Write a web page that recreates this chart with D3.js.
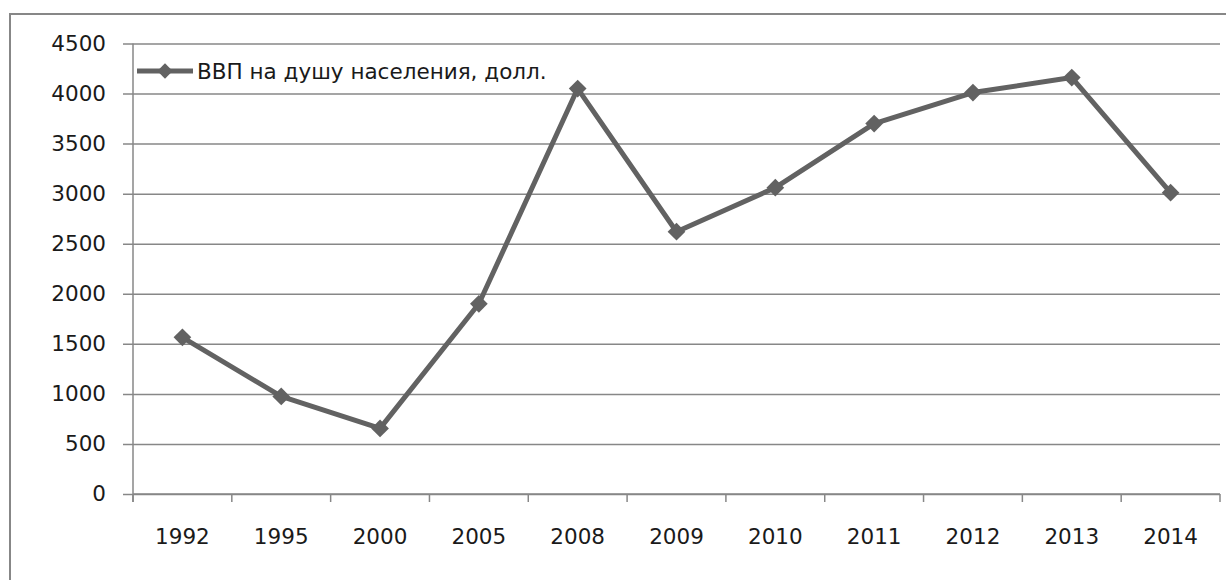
<!DOCTYPE html>
<html><head><meta charset="utf-8">
<script src="https://cdn.jsdelivr.net/npm/d3@7"></script>
<style>body{margin:0;background:#fff;}svg{display:block;}</style>
</head><body>
<svg id="c" width="1226" height="580"></svg>
<script>
const categories = ["1992","1995","2000","2005","2008","2009","2010","2011","2012","2013","2014"];
const gdpValues = [1565, 975, 655, 1900, 4050, 2620, 3060, 3700, 4010, 4160, 3010];
const yTicks = [0,500,1000,1500,2000,2500,3000,3500,4000,4500];
const seriesName = "ВВП на душу населения, долл.";

(function(){
const svg = d3.select("#c");
const grid = "#878787", lineCol = "#626262", font = "DejaVu Sans", fs = 21.5;
const pLeft = 133, pRight = 1220, pTop = 43.5, pBottom = 494;

// outer frame
svg.append("rect").attr("x",10).attr("y",14).attr("width",1230).attr("height",600)
  .attr("fill","none").attr("stroke",grid).attr("stroke-width",2);

const x = d3.scaleBand().domain(categories).range([pLeft,pRight]).padding(0);
const y = d3.scaleLinear().domain([0,4500]).range([pBottom,pTop]);

// y gridlines + labels
const yAxis = d3.axisLeft(y).tickValues(yTicks).tickFormat(d3.format("d"))
  .tickSize(-(pRight-pLeft)).tickSizeOuter(0).tickPadding(27);
const gy = svg.append("g").attr("transform",`translate(${pLeft},0)`).call(yAxis);
gy.select(".domain").remove();
gy.selectAll(".tick line").attr("stroke",grid).attr("stroke-width",1.5).attr("x1",-10);
gy.selectAll(".tick text").attr("font-family",font).attr("font-size",fs).attr("fill","#1a1a1a");

// y axis line
svg.append("line").attr("x1",pLeft).attr("x2",pLeft).attr("y1",pTop).attr("y2",pBottom+8)
  .attr("stroke",grid).attr("stroke-width",1.5);

// x axis
const gx = svg.append("g").attr("transform",`translate(0,${pBottom})`)
  .call(d3.axisBottom(x).tickSize(0).tickPadding(35));
gx.select(".domain").remove();
gx.selectAll(".tick text").attr("font-family",font).attr("font-size",fs).attr("fill","#1a1a1a");
svg.append("line").attr("x1",pLeft).attr("x2",pRight).attr("y1",pBottom).attr("y2",pBottom)
  .attr("stroke",grid).attr("stroke-width",1.5);
const bounds = categories.map(c=>x(c)).concat([pRight]);
svg.selectAll(".xt").data(bounds).enter().append("line")
  .attr("x1",d=>d).attr("x2",d=>d).attr("y1",pBottom).attr("y2",pBottom+8)
  .attr("stroke",grid).attr("stroke-width",1.5);

// line
const data = categories.map((c,i)=>({c, v:gdpValues[i]}));
const line = d3.line().x(d=>x(d.c)+x.bandwidth()/2).y(d=>y(d.v));
svg.append("path").datum(data).attr("d",line).attr("fill","none")
  .attr("stroke",lineCol).attr("stroke-width",5).attr("stroke-linejoin","round");
const diamond = d3.symbol().type(d3.symbolDiamond2).size(200);
svg.selectAll(".m").data(data).enter().append("path")
  .attr("d",diamond).attr("transform",d=>`translate(${x(d.c)+x.bandwidth()/2},${y(d.v)})`)
  .attr("fill",lineCol);

// legend
const lg = svg.append("g");
lg.append("line").attr("x1",137).attr("x2",193).attr("y1",71).attr("y2",71)
  .attr("stroke",lineCol).attr("stroke-width",5);
lg.append("path").attr("d",d3.symbol().type(d3.symbolDiamond2).size(150)()).attr("transform","translate(165,71)").attr("fill",lineCol);
lg.append("text").attr("x",197).attr("y",78.5).attr("font-family",font).attr("font-size",fs)
  .attr("fill","#1a1a1a").text(seriesName);
})();
</script>
</body></html>
